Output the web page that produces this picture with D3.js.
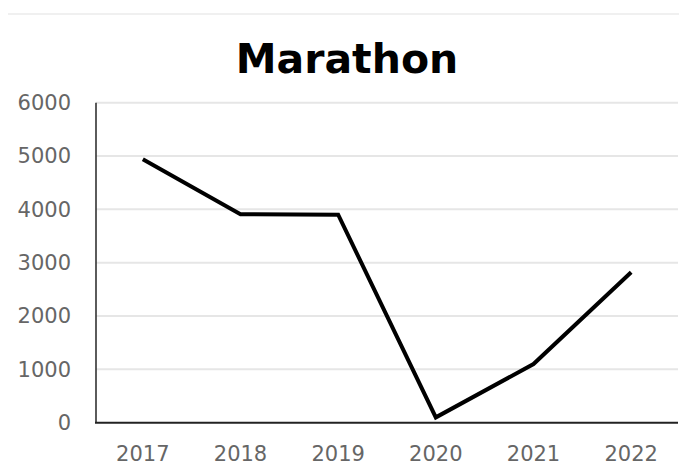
<!DOCTYPE html>
<html><head><meta charset="utf-8">
<script src="https://cdn.jsdelivr.net/npm/d3@7"></script>
<style>body{margin:0;background:#fff}svg{display:block}</style>
</head><body>
<svg id="c" width="679" height="466"></svg>
<script>
const years = ["2017","2018","2019","2020","2021","2022"];
const values = [4940, 3910, 3900, 100, 1100, 2820];
const yTicks = [0,1000,2000,3000,4000,5000,6000];
const title = "Marathon";

const svg = d3.select("#c");
const x = d3.scaleBand().domain(years).range([94, 680]).padding(0);
const y = d3.scaleLinear().domain([0, 6000]).range([422.7, 102.7]);
const L = 96, R = 678;

svg.append("line").attr("x1",8).attr("x2",679).attr("y1",14).attr("y2",14)
  .attr("stroke","#f0f0f0").attr("stroke-width",2);

svg.append("text").attr("x",347).attr("y",73).attr("text-anchor","middle")
  .attr("font-family","DejaVu Sans, Verdana, sans-serif").attr("font-weight","bold")
  .attr("font-size",41).attr("fill","#000").text(title);

// gridlines
svg.append("g").selectAll("line").data(yTicks.filter(d=>d>0)).join("line")
  .attr("x1",L).attr("x2",R).attr("y1",d=>y(d)).attr("y2",d=>y(d))
  .attr("stroke","#e6e6e6").attr("stroke-width",2);

// y axis labels
const ya = svg.append("g").attr("transform",`translate(${L},0)`)
  .call(d3.axisLeft(y).tickValues(yTicks).tickSize(0).tickPadding(25).tickFormat(d3.format("d")));
ya.select(".domain").remove();
ya.selectAll("text").attr("font-family","DejaVu Sans, Verdana, sans-serif").attr("font-size",21).attr("fill","#666");

// x axis labels
const xa = svg.append("g").attr("transform",`translate(0,${y(0)})`)
  .call(d3.axisBottom(x).tickSize(0).tickPadding(23));
xa.select(".domain").remove();
xa.selectAll("text").attr("font-family","DejaVu Sans, Verdana, sans-serif").attr("font-size",21).attr("fill","#666");

// axis lines
svg.append("line").attr("x1",L).attr("x2",L).attr("y1",y(6000)).attr("y2",y(0))
  .attr("stroke","#333").attr("stroke-width",1.6);
svg.append("line").attr("x1",L-1).attr("x2",R).attr("y1",y(0)).attr("y2",y(0))
  .attr("stroke","#222").attr("stroke-width",2);

// line
const line = d3.line().x((d,i)=>x(years[i])+x.bandwidth()/2).y(d=>y(d));
svg.append("path").datum(values).attr("d",line).attr("fill","none")
  .attr("stroke","#000").attr("stroke-width",4).attr("stroke-linejoin","miter");
</script>
</body></html>
